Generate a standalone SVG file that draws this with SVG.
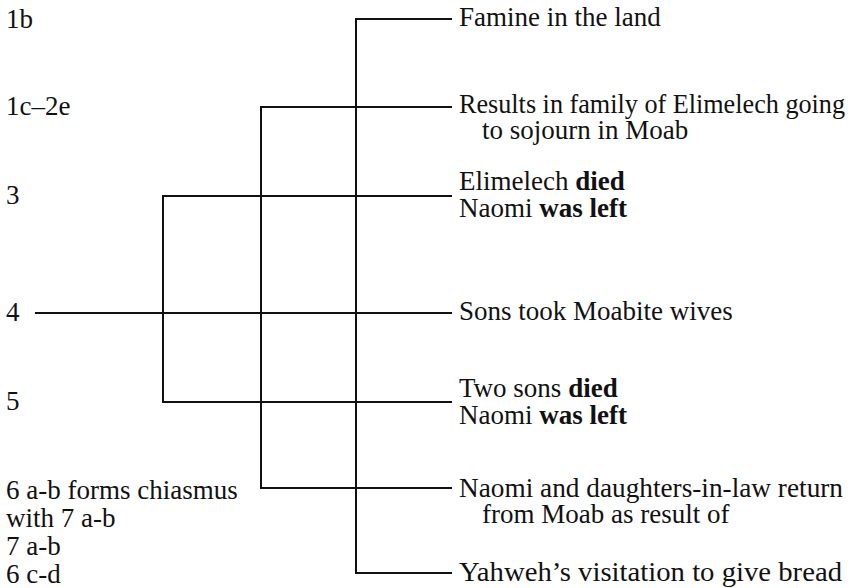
<svg xmlns="http://www.w3.org/2000/svg" width="853" height="588" viewBox="0 0 853 588">
<style>
text{font-family:"Liberation Serif","Times New Roman",serif;font-size:27px;fill:#111}
.b{font-weight:bold}
.ln{stroke:#111;stroke-width:2;fill:none}
</style>
<rect width="853" height="588" fill="#fff"/>
<g id="connectors" class="ln">
<polyline points="452,19 356,19 356,573 452,573"/>
<polyline points="452,107 261,107 261,488 452,488"/>
<polyline points="452,196 163,196 163,402 452,402"/>
<line x1="35" y1="313" x2="452" y2="313"/>
</g>
<g id="verse-labels">
<text x="6" y="28">1b</text>
<text x="6" y="115">1c–2e</text>
<text x="6" y="204">3</text>
<text x="6" y="321">4</text>
<text x="6" y="410">5</text>
<text x="6" y="499">6 a-b forms chiasmus</text>
<text x="6" y="527">with 7 a-b</text>
<text x="6" y="555">7 a-b</text>
<text x="6" y="583">6 c-d</text>
</g>
<g id="n1"><text x="459" y="26">Famine in the land</text></g>
<g id="n2"><text x="459" y="113" textLength="386" lengthAdjust="spacingAndGlyphs">Results in family of Elimelech going</text><text x="482" y="139">to sojourn in Moab</text></g>
<g id="n3"><text x="459" y="190">Elimelech <tspan class="b">died</tspan></text><text x="459" y="217">Naomi <tspan class="b">was left</tspan></text></g>
<g id="n4"><text x="459" y="320">Sons took Moabite wives</text></g>
<g id="n5"><text x="459" y="397">Two sons <tspan class="b">died</tspan></text><text x="459" y="424">Naomi <tspan class="b">was left</tspan></text></g>
<g id="n6"><text x="459" y="497" textLength="384" lengthAdjust="spacingAndGlyphs">Naomi and daughters-in-law return</text><text x="482" y="523">from Moab as result of</text></g>
<g id="n7"><text x="459" y="581" textLength="383" lengthAdjust="spacingAndGlyphs">Yahweh’s visitation to give bread</text></g>
</svg>
